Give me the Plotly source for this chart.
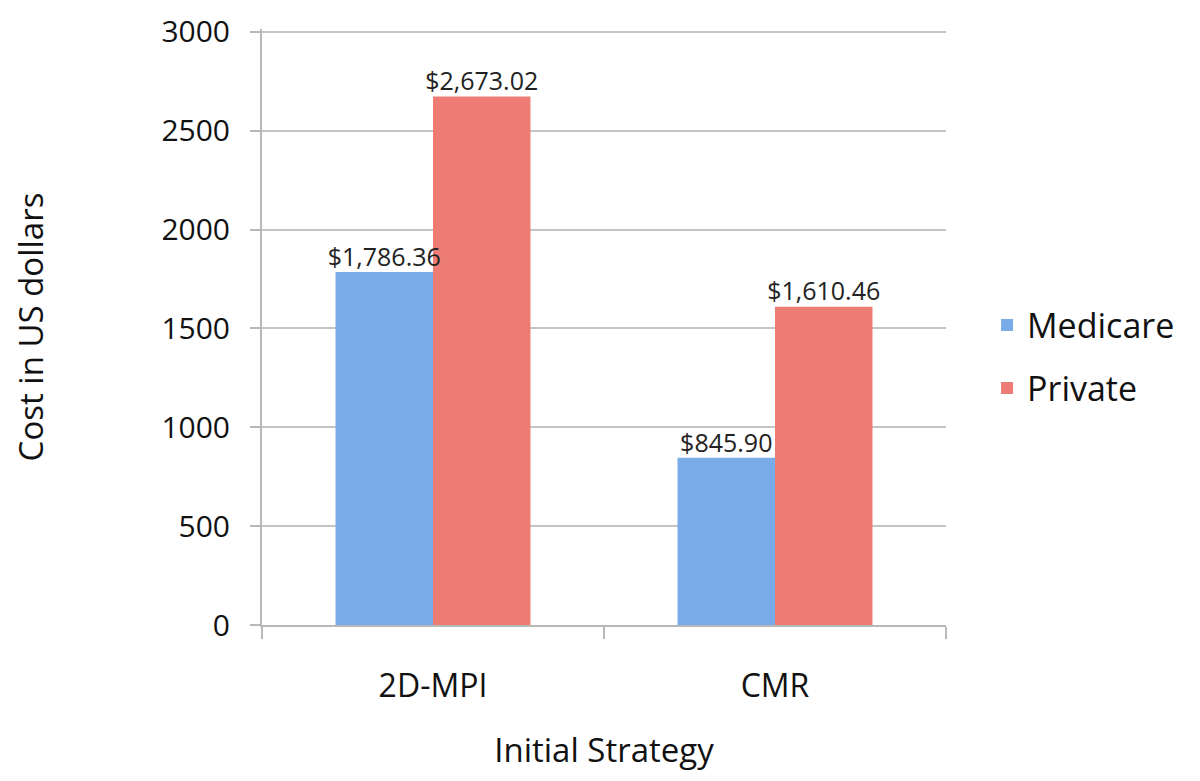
import plotly.graph_objects as go

categorias = ["2D-MPI", "CMR"]
medicare = [1786.36, 845.90]
privado = [2673.02, 1610.46]
series = ["Medicare", "Private"]
y_ticks = [0, 500, 1000, 1500, 2000, 2500, 3000]

fuente = "'Open Sans', Lato, sans-serif"
colores = ['#78abe8', '#ec7c74']


def etiqueta(v):
    return "${:,.2f}".format(v)


fig = go.Figure()
for nombre, valores, color in zip(series, [medicare, privado], colores):
    fig.add_trace(go.Bar(
        x=categorias,
        y=valores,
        name=nombre,
        legendgroup=nombre,
        marker=dict(color=color, line=dict(width=0))
    ))

# etiquetas como texto por encima de las barras (quedan delante de todo)
for nombre, valores in zip(series, [medicare, privado]):
    fig.add_trace(go.Scatter(
        x=categorias,
        y=valores,
        mode='text',
        text=[etiqueta(v) for v in valores],
        textposition='top center',
        textfont=dict(size=25, color='#222222'),
        showlegend=False,
        hoverinfo='skip',
        cliponaxis=False
    ))

# la página deja 8px de margen en el body
fig.update_layout(
    width=1184,
    height=765,
    barmode='group',
    scattermode='group',
    bargap=0.43,
    scattergap=0.43,
    bargroupgap=0,
    paper_bgcolor='white',
    plot_bgcolor='white',
    font=dict(family=fuente, size=30, color='#111111'),
    margin=dict(l=254, r=242, t=21, b=148),
    xaxis=dict(
        title=dict(text="Initial Strategy", font=dict(size=33), standoff=33),
        automargin=False,
        showline=True,
        linecolor='#b8b8b8',
        linewidth=2,
        ticks='outside',
        tickson='boundaries',
        ticklen=12,
        tickcolor='#b8b8b8',
        tickwidth=2,
        ticklabelstandoff=32,
        tickfont=dict(size=32),
        showgrid=False
    ),
    yaxis=dict(
        title=dict(text="Cost in US dollars", font=dict(size=33), standoff=111),
        automargin=False,
        range=[0, 3015],
        tickvals=y_ticks,
        showline=True,
        linecolor='#b8b8b8',
        linewidth=2,
        ticks='outside',
        ticklen=10,
        tickcolor='#b8b8b8',
        tickwidth=2,
        ticklabelstandoff=14,
        ticklabeloverflow='allow',
        showgrid=True,
        gridcolor='#c4c4c4',
        gridwidth=2,
        zeroline=False,
        tickfont=dict(size=30)
    ),
    legend=dict(
        x=1.06,
        y=0.45,
        xanchor='left',
        yanchor='middle',
        font=dict(size=34),
        traceorder='grouped',
        tracegroupgap=16,
        itemsizing='constant'
    )
)

fig.write_html("out.html")
